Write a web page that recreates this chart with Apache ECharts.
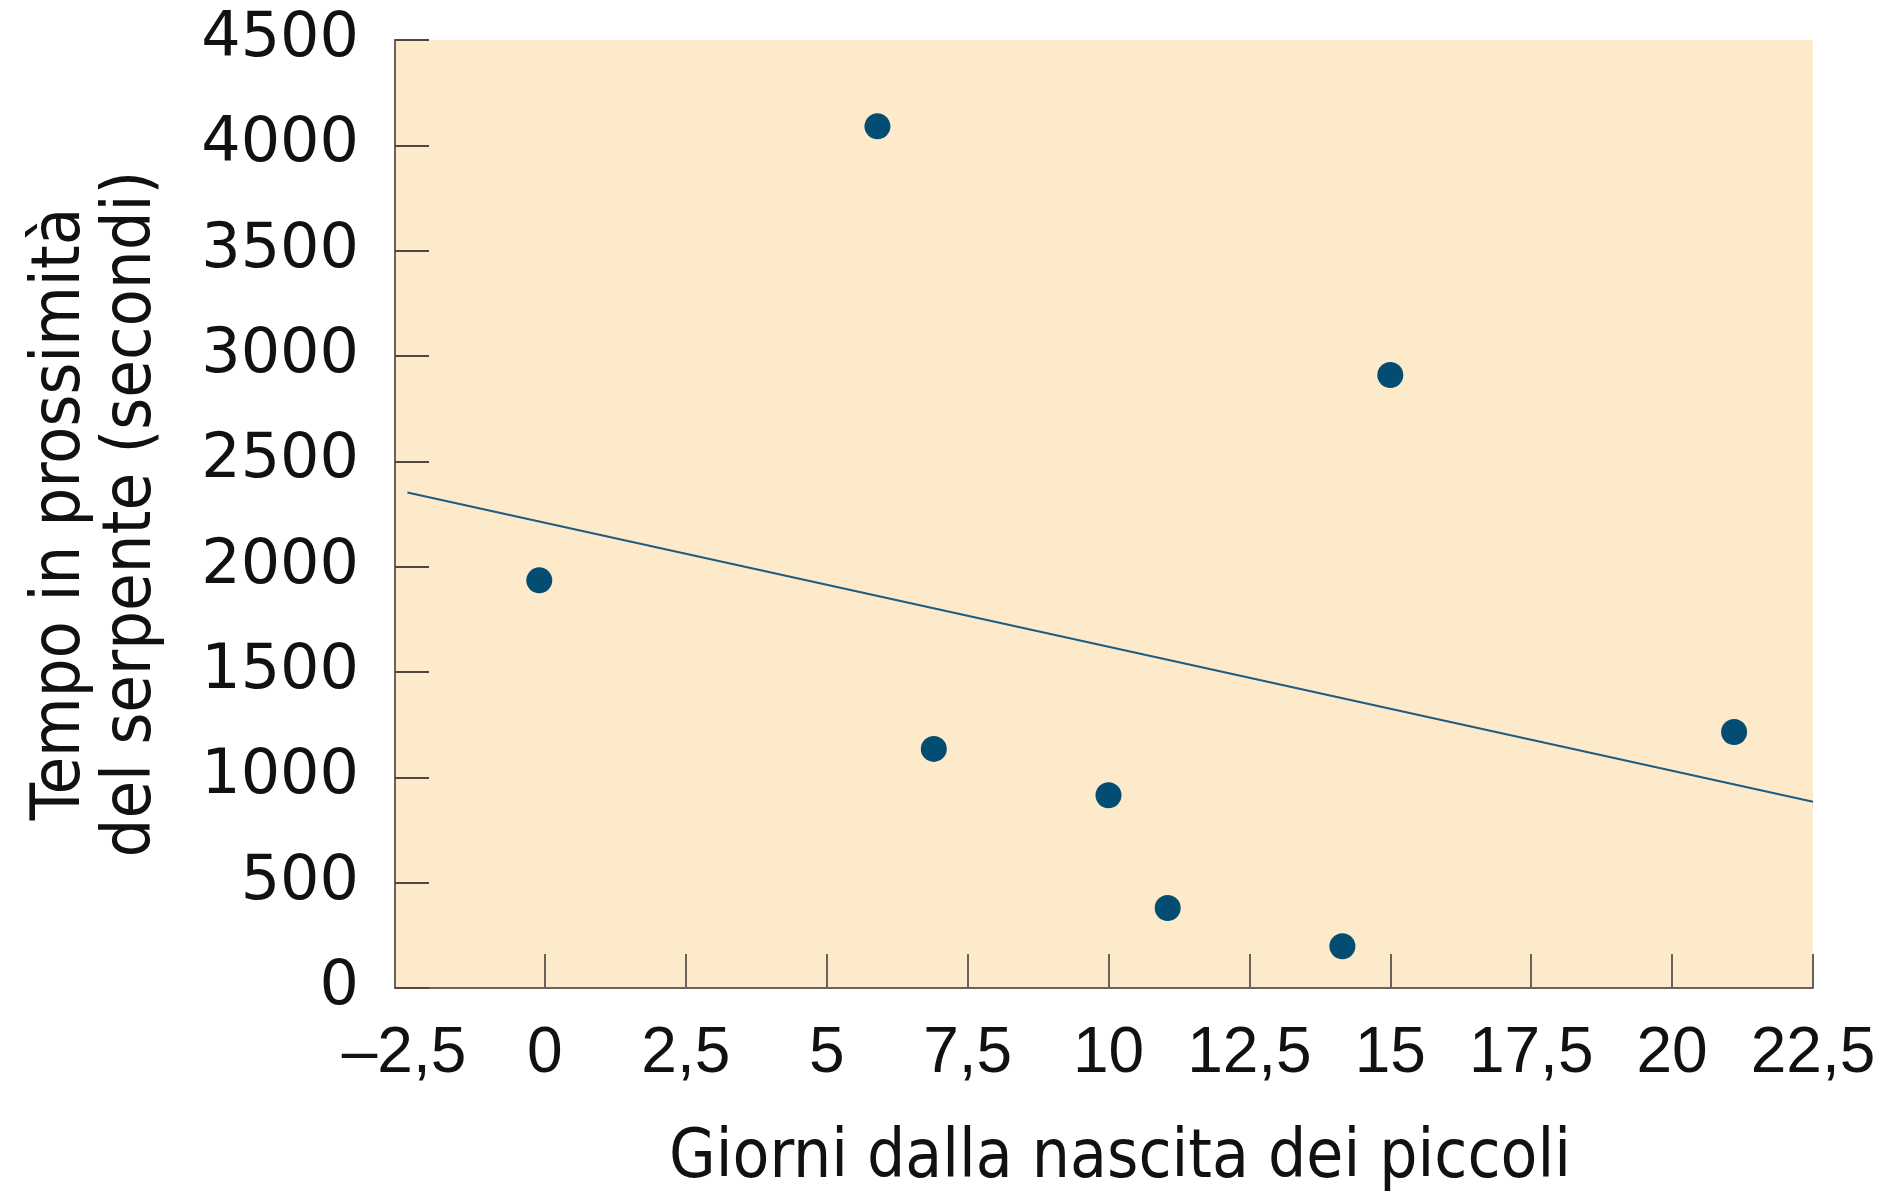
<!DOCTYPE html>
<html>
<head>
<meta charset="utf-8">
<script src="https://cdn.jsdelivr.net/npm/echarts@6/dist/echarts.min.js"></script>
<style>
html,body{margin:0;padding:0;background:#ffffff;}
#chart{width:1895px;height:1195px;}
</style>
</head>
<body>
<div id="chart"></div>
<script>
// ---- data ----
const xTickValues = [-2.5, 0, 2.5, 5, 7.5, 10, 12.5, 15, 17.5, 20, 22.5];
const xTickLabels = ['–2,5', '0', '2,5', '5', '7,5', '10', '12,5', '15', '17,5', '20', '22,5'];
const yTickLabels = ['0', '500', '1000', '1500', '2000', '2500', '3000', '3500', '4000', '4500'];
const days    = [-0.1, 5.9, 6.9, 10, 11.05, 14.15, 15, 21.1];
const seconds = [1935, 4090, 1135, 915, 380, 198, 2910, 1215];
const trendDays    = [-2.44, 22.5];
const trendSeconds = [2352, 884];
const xTitle = 'Giorni dalla nascita dei piccoli';
const yTitle = 'Tempo in prossimità\ndel serpente (secondi)';

const pts = days.map((d, i) => [d, seconds[i]]);
const trend = trendDays.map((d, i) => [d, trendSeconds[i]]);

const axisColor = '#6b6259';
const titleFont = "'Liberation Sans Narrow', 'DejaVu Sans Condensed', 'Liberation Sans', sans-serif";

const chart = echarts.init(document.getElementById('chart'), null, {renderer: 'canvas'});
chart.setOption({
  animation: false,
  backgroundColor: '#ffffff',
  grid: {
    left: 395, right: 82, top: 40, bottom: 207,
    containLabel: false,
    outerBoundsMode: 'none',
    show: true, backgroundColor: '#FDEACB', borderWidth: 0
  },
  xAxis: {
    type: 'value',
    min: -2.66, max: 22.5,
    splitLine: {show: false},
    axisLine: {show: true, onZero: false, lineStyle: {color: axisColor, width: 2}},
    axisTick: {
      show: true, inside: true, length: 34,
      customValues: xTickValues.filter(v => v > -2.5),
      lineStyle: {color: axisColor, width: 2}
    },
    axisLabel: {
      show: true, margin: 34,
      customValues: xTickValues,
      formatter: v => xTickLabels[xTickValues.indexOf(v)],
      color: '#111111', fontSize: 64, fontFamily: "'Liberation Sans', sans-serif"
    },
    name: xTitle,
    nameLocation: 'middle',
    nameGap: 172,
    nameTextStyle: {
      color: '#111111', fontSize: 67, fontFamily: titleFont,
      align: 'center', verticalAlign: 'middle',
      padding: [0, 0, 0, 32]
    }
  },
  yAxis: {
    type: 'value',
    min: 0, max: 4500, interval: 500,
    splitLine: {show: false},
    axisLine: {show: true, onZero: false, lineStyle: {color: axisColor, width: 2}},
    axisTick: {show: true, inside: true, length: 34, lineStyle: {color: '#4f4740', width: 2}},
    axisLabel: {
      show: true, margin: 36,
      formatter: v => yTickLabels[Math.round(v / 500)],
      color: '#111111', fontSize: 62, fontFamily: "'DejaVu Sans', sans-serif"
    },
    name: yTitle,
    nameLocation: 'middle',
    nameRotate: 90,
    nameGap: 298,
    nameTextStyle: {
      color: '#111111', fontSize: 68, fontFamily: titleFont, lineHeight: 71,
      align: 'center', verticalAlign: 'middle'
    }
  },
  series: [
    {
      type: 'line',
      data: trend,
      symbol: 'none',
      lineStyle: {color: '#1d5d82', width: 2},
      z: 2
    },
    {
      type: 'scatter',
      data: pts,
      symbol: 'circle',
      symbolSize: 26,
      itemStyle: {color: '#024d71', opacity: 1},
      z: 3
    }
  ]
});
</script>
</body>
</html>
